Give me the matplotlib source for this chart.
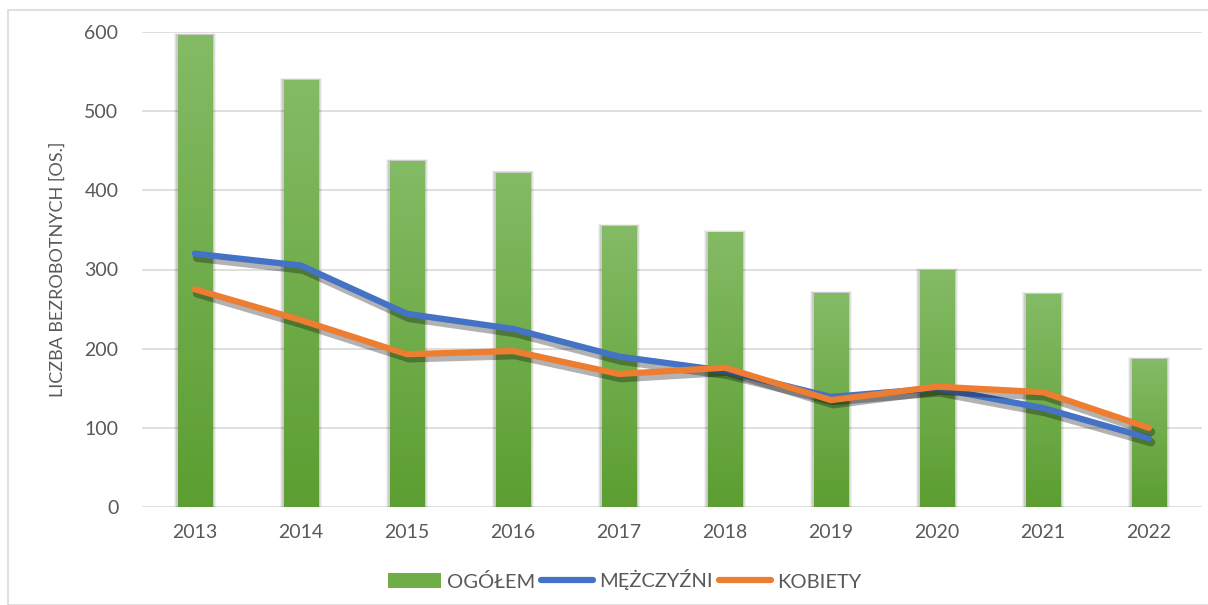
import numpy as np
import matplotlib
matplotlib.use("Agg")
import matplotlib.pyplot as plt
import matplotlib.patheffects as pe
from matplotlib.patches import Rectangle, Patch
from matplotlib.lines import Line2D

years = ["2013", "2014", "2015", "2016", "2017", "2018", "2019", "2020", "2021", "2022"]
ogolem = [596, 539, 437, 422, 355, 347, 270, 299, 269, 187]
mezczyzni = [320, 305, 244, 225, 190, 172, 139, 150, 125, 87]
kobiety = [275, 236, 193, 197, 168, 176, 135, 152, 145, 100]

plt.rcParams['font.family'] = ['Lato', 'DejaVu Sans']
gray = '#595959'

fig = plt.figure(figsize=(12.08, 6.05), dpi=100)
ax = fig.add_axes([142/1208, 1-507/605, 1060/1208, 475/605])

# outer chart border
fig.patches.append(Rectangle((8/1208, 0), 1, 1-10/605, transform=fig.transFigure,
                             fill=False, edgecolor='#D9D9D9', linewidth=1.2))

x = np.arange(len(years))
width = 0.33
# soft halo behind the bars
for grow, a in [(0.07, 0.05), (0.045, 0.07), (0.025, 0.09)]:
    ax.bar(x, np.array(ogolem) + grow * 40, width + grow, color='black', alpha=a,
           linewidth=0, zorder=1.5)
bars = ax.bar(x, ogolem, width, color='#70AD47', zorder=2)
# vertical gradient for each bar
grad = np.linspace(0, 1, 256).reshape(-1, 1)
cmap = matplotlib.colors.LinearSegmentedColormap.from_list('g', ['#5C9E31', '#84BB65'])
for b in bars:
    x0, y0 = b.get_x(), b.get_y()
    w, h = b.get_width(), b.get_height()
    im = ax.imshow(grad, cmap=cmap, extent=[x0, x0 + w, y0, y0 + h], origin='lower',
                   aspect='auto', zorder=2.5)
    im.set_clip_path(b)

shadow = [pe.SimpleLineShadow(offset=(1.5, -3), shadow_color='black', alpha=0.3,
                              linewidth=6), pe.Normal()]
ax.plot(x, mezczyzni, color='#4472C4', linewidth=4.5, solid_capstyle='round',
        solid_joinstyle='round', zorder=3, path_effects=shadow)
ax.plot(x, kobiety, color='#ED7D31', linewidth=4.5, solid_capstyle='round',
        solid_joinstyle='round', zorder=4, path_effects=shadow)

ax.set_xlim(-0.5, len(years) - 0.5)
ax.set_ylim(0, 600)
ax.set_yticks(range(0, 601, 100))
ax.set_xticks(x)
ax.set_xticklabels(years)
ax.grid(axis='y', color='#D9D9D9', linewidth=1.2, zorder=0)
ax.set_axisbelow(True)
for s in ax.spines.values():
    s.set_visible(False)
ax.tick_params(length=0, colors=gray, labelsize=14)
ax.tick_params(axis='y', pad=17)
ax.tick_params(axis='x', pad=12)
ax.set_ylabel('LICZBA BEZROBOTNYCH [OS.]', color=gray, fontsize=13, labelpad=13)

handles = [Patch(facecolor='#70AD47'),
           Line2D([], [], color='#4472C4', linewidth=4.5, solid_capstyle='round'),
           Line2D([], [], color='#ED7D31', linewidth=4.5, solid_capstyle='round')]
leg = fig.legend(handles, ['OGÓŁEM', 'MĘŻCZYŹNI', 'KOBIETY'], loc='center',
                 bbox_to_anchor=(625/1208, 1-580/605), ncol=3, frameon=False,
                 fontsize=14.5, handlelength=2.6, handletextpad=0.3, columnspacing=0.3,
                 labelcolor=gray)

fig.savefig('out.png', dpi=100)
